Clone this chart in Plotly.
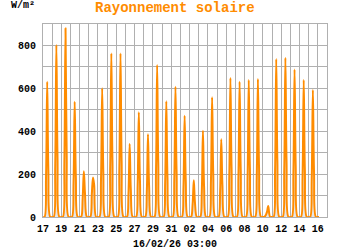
import datetime as dt
import plotly.graph_objects as go

# Daily solar radiation readings (W/m²), one entry per day from 17 Jan 2026 to 15 Feb 2026
start_day = "2026-01-17"
end_time = "2026-02-16 03:00"
sample_hours = [0, 4, 8, 11, 14, 19]
v08 = [190, 240, 260, 160, 90, 110, 180, 230, 230, 110, 150, 120, 210, 160, 180,
       140, 60, 120, 170, 120, 190, 190, 190, 190, 10, 220, 220, 210, 190, 180]
v11 = [631, 802, 880, 537, 213, 184, 600, 763, 763, 340, 489, 386, 709, 540, 607,
       472, 171, 402, 558, 363, 648, 631, 639, 643, 25, 737, 743, 688, 639, 592]
v14 = [220, 280, 300, 190, 110, 150, 210, 260, 260, 130, 170, 140, 250, 190, 210,
       170, 70, 140, 200, 150, 230, 220, 230, 230, 51, 260, 260, 240, 220, 210]

y_ticks = [0, 100, 200, 300, 400, 500, 600, 700, 800, 900]
y_labels = ["0", "", "200", "", "400", "", "600", "", "800", ""]
x_labels = ["17", "", "19", "", "21", "", "23", "", "25", "", "27", "", "29", "", "31", "",
            "02", "", "04", "", "06", "", "08", "", "10", "", "12", "", "14", "", "16", ""]

d0 = dt.datetime.fromisoformat(start_day)
times, vals = [], []
for i in range(len(v11)):
    day = d0 + dt.timedelta(days=i)
    row = [0, 0, v08[i], v11[i], v14[i], 0]
    for h, v in zip(sample_hours, row):
        times.append(day + dt.timedelta(hours=h))
        vals.append(v)
times.append(d0 + dt.timedelta(days=len(v11)))
vals.append(0)
times.append(dt.datetime.fromisoformat(end_time))
vals.append(0)

tick_dates = [d0 + dt.timedelta(days=k) for k in range(len(x_labels))]

FONT = "Liberation Mono, Courier New, monospace"
ORANGE = "#ff8c00"
GRID = "#b0b0b0"

fig = go.Figure()
fig.add_trace(go.Scatter(
    x=times, y=vals, mode="lines",
    line=dict(color=ORANGE, width=2, shape="spline", smoothing=1),
    fill="tozeroy", fillcolor="rgba(200,200,200,0.45)",
    hoverinfo="skip", showlegend=False,
))

fig.update_layout(
    width=350, height=250,
    margin=dict(l=43, r=23, t=24, b=33),
    paper_bgcolor="white", plot_bgcolor="white",
    font=dict(family=FONT, size=10, color="black"),
    xaxis=dict(
        type="date",
        range=[d0, d0 + dt.timedelta(days=31)],
        tickmode="array", tickvals=tick_dates, ticktext=x_labels,
        showgrid=True, gridcolor=GRID, gridwidth=1,
        showline=True, linecolor=GRID, linewidth=1, mirror=True,
        ticks="", tickfont=dict(family=FONT, size=10, color="black", weight="bold"),
        zeroline=False, ticklabelstandoff=2,
    ),
    yaxis=dict(
        range=[0, 900],
        tickmode="array", tickvals=y_ticks, ticktext=y_labels,
        showgrid=True, gridcolor=GRID, gridwidth=1,
        showline=True, linecolor=GRID, linewidth=1, mirror=True,
        ticks="", tickfont=dict(family=FONT, size=10, color="black", weight="bold"),
        zeroline=False, ticklabelstandoff=4,
    ),
    annotations=[
        dict(text="Rayonnement solaire", xref="paper", yref="paper",
             xanchor="center", yanchor="middle", showarrow=False,
             font=dict(family=FONT, size=14, color=ORANGE, weight="bold")),
        dict(text="W/m²", xref="paper", yref="paper", showarrow=False,
             xanchor="left", yanchor="middle",
             font=dict(family=FONT, size=10, color="black", weight="bold")),
        dict(text="16/02/26 03:00", xref="paper", yref="paper", showarrow=False,
             xanchor="center", yanchor="middle",
             font=dict(family=FONT, size=10, color="black", weight="bold")),
    ],
)

plot_w = 350 - 43 - 23
plot_h = 250 - 24 - 33
def px_to_paper(px, py):
    return (px - 43) / plot_w, (250 - 33 - py) / plot_h

ax, ay = px_to_paper(175, 8)
fig.layout.annotations[0].update(x=ax, y=ay)
ax, ay = px_to_paper(9, 6)
fig.layout.annotations[1].update(x=ax, y=ay)
ax, ay = px_to_paper(175, 244)
fig.layout.annotations[2].update(x=ax, y=ay)

fig.write_html("out.html")
